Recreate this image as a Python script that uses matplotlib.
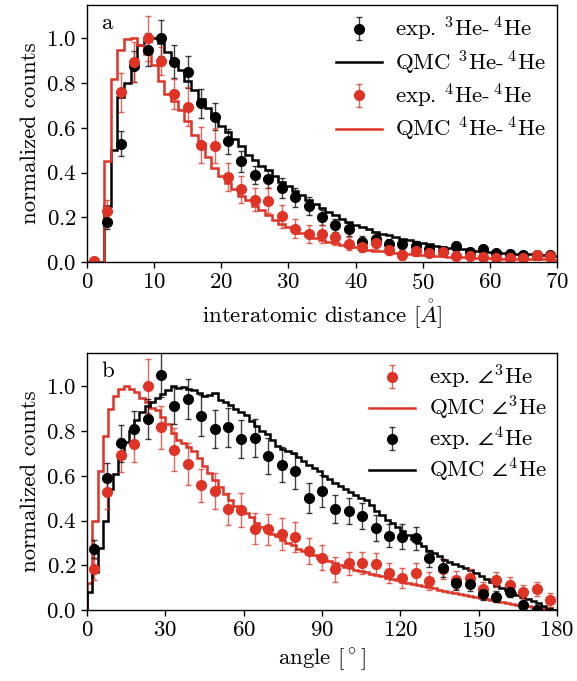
import numpy as np
import matplotlib
matplotlib.use("Agg")
import matplotlib.pyplot as plt

plt.rcParams['font.family'] = 'serif'
plt.rcParams['font.serif'] = ['cmr10']
plt.rcParams['mathtext.fontset'] = 'cm'
plt.rcParams['axes.formatter.use_mathtext'] = True
plt.rcParams['axes.unicode_minus'] = False

RED = '#df3326'

# ---- panel a : interatomic distance ----
dist_exp = np.arange(1, 70, 2)
he34_exp = [0.0, 0.18, 0.53, 0.875, 0.95, 1.0, 0.895, 0.85, 0.71, 0.65,
            0.54, 0.45, 0.39, 0.37, 0.33, 0.29, 0.25, 0.20, 0.165, 0.147,
            0.09, 0.105, 0.08, 0.08, 0.072, 0.058, 0.05, 0.072, 0.046, 0.058,
            0.04, 0.036, 0.031, 0.031, 0.031]
he34_err = [0.01, 0.03, 0.056, 0.07, 0.075, 0.08, 0.074, 0.072, 0.065, 0.06,
            0.057, 0.045, 0.04, 0.04, 0.045, 0.042, 0.04, 0.035, 0.03, 0.03,
            0.028, 0.028, 0.025, 0.025, 0.022, 0.02, 0.02, 0.02, 0.018, 0.018,
            0.015, 0.015, 0.015, 0.015, 0.015]
he44_exp = [0.006, 0.23, 0.76, 0.895, 1.0, 0.90, 0.75, 0.695, 0.525, 0.52,
            0.38, 0.325, 0.28, 0.275, 0.205, 0.15, 0.125, 0.125, 0.113, 0.083,
            0.07, 0.084, 0.055, 0.031, 0.049, 0.043, 0.046, 0.028, 0.028, 0.025,
            0.02, 0.02, 0.02, 0.031, 0.028]
he44_err = [0.01, 0.05, 0.087, 0.09, 0.10, 0.063, 0.067, 0.086, 0.08, 0.078,
            0.062, 0.062, 0.05, 0.056, 0.052, 0.043, 0.04, 0.04, 0.035, 0.03,
            0.025, 0.025, 0.025, 0.022, 0.022, 0.02, 0.02, 0.018, 0.018, 0.016,
            0.015, 0.015, 0.015, 0.015, 0.015]

# QMC histograms, 1 A bins centred on 0..70
dist_qmc = np.arange(0, 71)
he34_qmc = [0, 0, 0, 0.25, 0.5, 0.74, 0.8, 0.9, 0.97, 0.99,
            1.0, 0.98, 0.94, 0.9, 0.86, 0.81, 0.77, 0.73, 0.69, 0.65,
            0.61, 0.58, 0.55, 0.52, 0.48, 0.455, 0.43, 0.41, 0.385, 0.36,
            0.34, 0.32, 0.30, 0.28, 0.26, 0.24, 0.225, 0.21, 0.195, 0.18,
            0.168, 0.157, 0.147, 0.137, 0.128, 0.12, 0.112, 0.104, 0.097, 0.09,
            0.085, 0.08, 0.074, 0.069, 0.065, 0.06, 0.057, 0.054, 0.051, 0.048,
            0.046, 0.044, 0.042, 0.04, 0.038, 0.036, 0.035, 0.033, 0.031, 0.03,
            0.028]
he44_qmc = [0, 0, 0, 0.45, 0.82, 0.95, 0.995, 1.0, 0.97, 0.93,
            0.88, 0.81, 0.75, 0.72, 0.68, 0.63, 0.57, 0.53, 0.47, 0.42,
            0.385, 0.355, 0.325, 0.295, 0.28, 0.25, 0.232, 0.212, 0.19, 0.172,
            0.155, 0.142, 0.13, 0.12, 0.108, 0.1, 0.092, 0.085, 0.078, 0.072,
            0.066, 0.061, 0.056, 0.052, 0.048, 0.045, 0.042, 0.039, 0.036, 0.034,
            0.032, 0.03, 0.028, 0.026, 0.025, 0.023, 0.022, 0.021, 0.02, 0.019,
            0.018, 0.017, 0.016, 0.015, 0.014, 0.013, 0.013, 0.012, 0.012, 0.011,
            0.011]

# ---- panel b : angles ----
angle_exp = (np.arange(35) + 0.5) * 180 / 35
ang3_exp = [0.182, 0.527, 0.694, 0.742, 1.0, 0.817, 0.717, 0.652, 0.557, 0.533,
            0.452, 0.448, 0.363, 0.361, 0.34, 0.328, 0.266, 0.234, 0.182, 0.209,
            0.212, 0.206, 0.167, 0.142, 0.164, 0.131, 0.185, 0.134, 0.142, 0.093,
            0.137, 0.112, 0.082, 0.094, 0.045]
ang3_err = [0.048, 0.075, 0.075, 0.082, 0.12, 0.097, 0.097, 0.093, 0.075, 0.082,
            0.07, 0.076, 0.069, 0.069, 0.07, 0.067, 0.058, 0.056, 0.055, 0.05,
            0.05, 0.05, 0.045, 0.045, 0.045, 0.04, 0.045, 0.04, 0.04, 0.035,
            0.035, 0.035, 0.03, 0.03, 0.03]
ang4_exp = [0.273, 0.59, 0.746, 0.81, 0.854, 1.052, 0.914, 0.943, 0.869, 0.81,
            0.817, 0.764, 0.769, 0.69, 0.65, 0.62, 0.50, 0.533, 0.451, 0.443,
            0.421, 0.366, 0.333, 0.328, 0.321, 0.231, 0.19, 0.12, 0.116, 0.072,
            0.06, 0.082, 0.022, 0.0, np.nan]
ang4_err = [0.04, 0.067, 0.082, 0.08, 0.088, 0.1, 0.084, 0.091, 0.092, 0.085,
            0.086, 0.084, 0.084, 0.08, 0.077, 0.078, 0.067, 0.07, 0.063, 0.06,
            0.06, 0.057, 0.05, 0.055, 0.05, 0.04, 0.04, 0.03, 0.03, 0.025,
            0.025, 0.025, 0.02, 0.02, 0.0]

# QMC histograms, 2 deg bins from 0 to 180
ang3_qmc = [0.12, 0.40, 0.62, 0.78, 0.90, 0.955, 0.99, 1.0, 0.99, 0.975,
            0.95, 0.93, 0.905, 0.895, 0.865, 0.83, 0.79, 0.76, 0.745, 0.73,
            0.71, 0.68, 0.645, 0.615, 0.58, 0.55, 0.52, 0.49, 0.465, 0.45,
            0.435, 0.415, 0.39, 0.37, 0.355, 0.34, 0.33, 0.315, 0.30, 0.29,
            0.275, 0.265, 0.25, 0.245, 0.235, 0.225, 0.22, 0.21, 0.20, 0.195,
            0.19, 0.18, 0.175, 0.17, 0.163, 0.157, 0.151, 0.145, 0.14, 0.134,
            0.128, 0.123, 0.118, 0.113, 0.108, 0.102, 0.097, 0.092, 0.087, 0.082,
            0.078, 0.073, 0.068, 0.064, 0.059, 0.055, 0.05, 0.046, 0.042, 0.037,
            0.033, 0.029, 0.025, 0.021, 0.018, 0.014, 0.011, 0.008, 0.005, 0.002]
ang4_qmc = [0.08, 0.17, 0.28, 0.40, 0.54, 0.61, 0.68, 0.75, 0.80, 0.85,
            0.885, 0.91, 0.93, 0.95, 0.965, 0.985, 1.0, 0.993, 0.995, 0.99,
            0.982, 0.97, 0.955, 0.962, 0.97, 0.94, 0.928, 0.915, 0.9, 0.885,
            0.87, 0.845, 0.825, 0.8, 0.785, 0.76, 0.735, 0.72, 0.71, 0.7,
            0.685, 0.665, 0.65, 0.635, 0.62, 0.6, 0.585, 0.57, 0.555, 0.54,
            0.53, 0.515, 0.5, 0.49, 0.47, 0.445, 0.425, 0.405, 0.39, 0.37,
            0.355, 0.335, 0.32, 0.3, 0.285, 0.265, 0.255, 0.24, 0.225, 0.215,
            0.205, 0.198, 0.19, 0.178, 0.165, 0.152, 0.14, 0.125, 0.11, 0.1,
            0.09, 0.078, 0.07, 0.06, 0.05, 0.04, 0.03, 0.02, 0.01, 0.003]

FS = 16.5

fig = plt.figure(figsize=(5.77, 6.81), dpi=100)
ax1 = fig.add_axes([0.151, 0.615, 0.814, 0.378])
ax2 = fig.add_axes([0.151, 0.104, 0.814, 0.378])

ebkw = dict(fmt='o', ms=7, capsize=2.5, elinewidth=1, capthick=1)

# panel a
h1 = ax1.errorbar(dist_exp, he34_exp, yerr=he34_err, color='k', ecolor=(0, 0, 0, 0.75),
                  label=r'exp. $^3$He-$\,^4$He', **ebkw)
edges_a = np.append(dist_qmc - 0.5, dist_qmc[-1] + 0.5)
h2 = ax1.stairs(he34_qmc, edges_a, color='k', lw=1.8, label=r'QMC $^3$He-$\,^4$He')
h3 = ax1.errorbar(dist_exp, he44_exp, yerr=he44_err, color=RED, ecolor=RED + 'c0',
                  label=r'exp. $^4$He-$\,^4$He', **ebkw)
h4 = ax1.stairs(he44_qmc, edges_a, color=RED, lw=1.8, label=r'QMC $^4$He-$\,^4$He')
ax1.set_xlim(0, 70)
ax1.set_ylim(0, 1.15)
ax1.set_xticks(np.arange(0, 71, 10))
ax1.set_xlabel(r'interatomic distance [$\mathring{A}$]', fontsize=FS)
ax1.text(0.03, 0.965, 'a', transform=ax1.transAxes, fontsize=FS, va='top')
leg_a = [h1, h2, h3, h4]

# panel b
edges_b = np.linspace(0, 180, len(ang3_qmc) + 1)
g1 = ax2.errorbar(angle_exp, ang3_exp, yerr=ang3_err, color=RED, ecolor=RED + 'c0',
                  label=r'exp. $\angle^3$He', **ebkw)
g2 = ax2.stairs(ang3_qmc, edges_b, color=RED, lw=1.8, label=r'QMC $\angle^3$He')
g3 = ax2.errorbar(angle_exp, ang4_exp, yerr=ang4_err, color='k', ecolor=(0, 0, 0, 0.75),
                  label=r'exp. $\angle^4$He', **ebkw)
g4 = ax2.stairs(ang4_qmc, edges_b, color='k', lw=1.8, label=r'QMC $\angle^4$He')
ax2.set_xlim(0, 180)
ax2.set_ylim(0, 1.15)
ax2.set_xticks(np.arange(0, 181, 30))
ax2.set_xlabel(r'angle [$^\circ$]', fontsize=FS)
ax2.text(0.03, 0.965, 'b', transform=ax2.transAxes, fontsize=FS, va='top')
leg_b = [g1, g2, g3, g4]

for ax, hs, sp in ((ax1, leg_a, 0.22), (ax2, leg_b, 0.12)):
    ax.set_yticks([0, 0.2, 0.4, 0.6, 0.8, 1.0])
    ax.set_ylabel('normalized counts', fontsize=FS)
    ax.tick_params(direction='out', length=4, width=1, labelsize=FS)
    for s in ax.spines.values():
        s.set_linewidth(1)
    ax.legend(handles=hs, labels=[h.get_label() for h in hs], loc='upper right',
              frameon=False, fontsize=FS, handlelength=2.0, handletextpad=0.6,
              labelspacing=sp, borderaxespad=0.15, borderpad=0.3)

fig.savefig('out.png', dpi=100)
